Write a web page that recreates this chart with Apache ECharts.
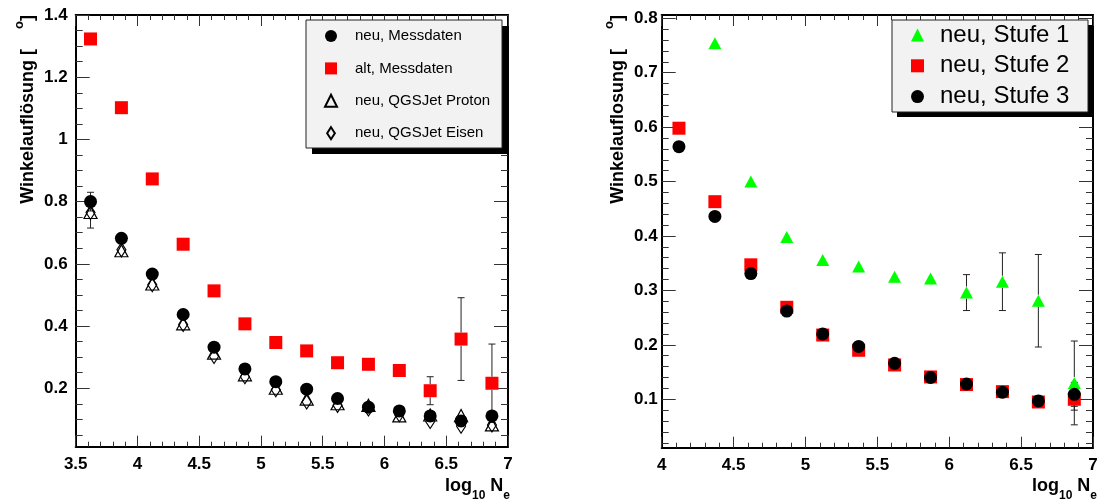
<!DOCTYPE html>
<html><head><meta charset="utf-8">
<script src="https://cdn.jsdelivr.net/npm/echarts@6/dist/echarts.min.js"></script>
<style>html,body{margin:0;padding:0;background:#fff}#c{width:1101px;height:500px}</style>
</head><body><div id="c"></div>
<script>
// ---------- left panel data ----------
const xLeft = [3.62, 3.87, 4.12, 4.37, 4.62, 4.87, 5.12, 5.37, 5.62, 5.87, 6.12, 6.37, 6.62, 6.87];
const neuMess    = [0.800, 0.682, 0.567, 0.437, 0.332, 0.262, 0.221, 0.197, 0.167, 0.139, 0.127, 0.111, 0.095, 0.111];
const neuMessErr = [0.030, 0.010, 0.010, 0.010, 0.008, 0.008, 0.008, 0.008, 0.008, 0.010, 0.010, 0.012, 0.015, 0.020];
const altMess    = [1.323, 1.102, 0.873, 0.663, 0.513, 0.407, 0.347, 0.320, 0.282, 0.277, 0.257, 0.192, 0.358, 0.216];
const altMessErr = [0.010, 0.010, 0.010, 0.010, 0.010, 0.010, 0.010, 0.010, 0.010, 0.015, 0.020, 0.045, 0.133, 0.126];
const proton     = [0.765, 0.642, 0.535, 0.407, 0.313, 0.243, 0.200, 0.165, 0.150, 0.145, 0.111, 0.114, 0.112, 0.082];
const eisen      = [0.765, 0.645, 0.533, 0.405, 0.302, 0.237, 0.195, 0.156, 0.145, 0.133, 0.115, 0.093, 0.078, 0.082];
const eisenErr   = [0.050, 0, 0, 0, 0, 0, 0, 0, 0, 0, 0, 0, 0, 0];
const yTicksLeft = [0.2, 0.4, 0.6, 0.8, 1, 1.2, 1.4];

// ---------- right panel data ----------
const xRight = [4.12, 4.37, 4.62, 4.87, 5.12, 5.37, 5.62, 5.87, 6.12, 6.37, 6.62, 6.87];
const stufe1    = [null, 0.754, 0.500, 0.398, 0.356, 0.344, 0.325, 0.322, 0.296, 0.316, 0.281, 0.130];
const stufe1Err = [null, 0.010, 0.010, 0.010, 0.010, 0.010, 0.010, 0.010, 0.033, 0.053, 0.085, 0.077];
const stufe2    = [0.598, 0.463, 0.347, 0.269, 0.218, 0.190, 0.163, 0.141, 0.127, 0.114, 0.095, 0.100];
const stufe2Err = [0.005, 0.005, 0.005, 0.005, 0.005, 0.005, 0.005, 0.005, 0.005, 0.006, 0.008, 0.020];
const stufe3    = [0.564, 0.436, 0.331, 0.262, 0.220, 0.197, 0.166, 0.140, 0.128, 0.113, 0.097, 0.109];
const stufe3Err = [0.005, 0.005, 0.005, 0.005, 0.005, 0.005, 0.005, 0.005, 0.005, 0.006, 0.008, 0.022];
const yTicksRight = [0.1, 0.2, 0.3, 0.4, 0.5, 0.6, 0.7, 0.8];

const FONT = '"Liberation Sans", Arial, Helvetica, sans-serif';

function pts(xs, ys) { const o = []; xs.forEach((x, i) => { if (ys[i] != null) o.push([x, ys[i]]); }); return o; }
function errPts(xs, ys, es) { const o = []; xs.forEach((x, i) => { if (ys[i] != null && es[i]) o.push([x, ys[i], es[i]]); }); return o; }

function minorTicks(step, lo, hi, majorStep) {
  const out = [];
  for (let k = Math.ceil(lo / step); k * step <= hi + 1e-9; k++) {
    const v = +(k * step).toFixed(4);
    const r = v / majorStep;
    if (Math.abs(r - Math.round(r)) > 1e-6) out.push(v);
  }
  return out;
}

function errRender(rPix) {
  return function (params, api) {
    const x = api.value(0), y = api.value(1), e = api.value(2);
    const c = api.coord([x, y]);
    const hi = api.coord([x, y + e]);
    const lo = api.coord([x, y - e]);
    const st = { stroke: '#222', lineWidth: 1 };
    const cap = 3.5;
    const ch = [];
    if (hi[1] < c[1] - rPix) {
      ch.push({ type: 'line', shape: { x1: c[0], y1: hi[1], x2: c[0], y2: c[1] - rPix }, style: st });
      ch.push({ type: 'line', shape: { x1: c[0] - cap, y1: hi[1], x2: c[0] + cap, y2: hi[1] }, style: st });
    }
    if (lo[1] > c[1] + rPix) {
      ch.push({ type: 'line', shape: { x1: c[0], y1: c[1] + rPix, x2: c[0], y2: lo[1] }, style: st });
      ch.push({ type: 'line', shape: { x1: c[0] - cap, y1: lo[1], x2: c[0] + cap, y2: lo[1] }, style: st });
    }
    return { type: 'group', children: ch };
  };
}

const axisLineStyle = { color: '#000', width: 2 };
const tickStyle = { color: '#333', width: 1 };
const labelStyle = { color: '#000', fontFamily: FONT, fontWeight: 'bold', fontSize: 17 };

function xAxes(grid, min, max) {
  const base = {
    type: 'value', gridIndex: grid, min: min, max: max, interval: 0.5,
    axisLine: { show: true, onZero: false, lineStyle: axisLineStyle },
    splitLine: { show: false }, minorSplitLine: { show: false }
  };
  return [
    Object.assign({}, base, {
      position: 'bottom',
      axisTick: { show: true, inside: true, length: 11, lineStyle: tickStyle },
      minorTick: { show: true, splitNumber: 5, length: 5, lineStyle: tickStyle },
      axisLabel: Object.assign({ margin: 9 }, labelStyle)
    }),
    Object.assign({}, base, {
      position: 'top',
      axisTick: { show: true, inside: true, length: 11, lineStyle: tickStyle },
      minorTick: { show: true, splitNumber: 5, length: 5, lineStyle: tickStyle },
      axisLabel: { show: false }
    })
  ];
}

function yAxes(grid, min, max, major, minor, labelMargin) {
  const base = { type: 'value', gridIndex: grid, min: min, max: max, splitLine: { show: false } };
  return [
    Object.assign({}, base, {
      position: 'left',
      axisLine: { show: true, onZero: false, lineStyle: axisLineStyle },
      axisTick: { show: true, inside: true, length: 14, customValues: major, lineStyle: tickStyle },
      axisLabel: Object.assign({ margin: labelMargin, customValues: major }, labelStyle)
    }),
    Object.assign({}, base, {
      position: 'left', axisLine: { show: false },
      axisTick: { show: true, inside: true, length: 7, customValues: minor, lineStyle: tickStyle },
      axisLabel: { show: false }
    }),
    Object.assign({}, base, {
      position: 'right',
      axisLine: { show: true, onZero: false, lineStyle: axisLineStyle },
      axisTick: { show: true, inside: true, length: 14, customValues: major, lineStyle: tickStyle },
      axisLabel: { show: false }
    }),
    Object.assign({}, base, {
      position: 'right', axisLine: { show: false },
      axisTick: { show: true, inside: true, length: 7, customValues: minor, lineStyle: tickStyle },
      axisLabel: { show: false }
    })
  ];
}

const Y_L_MIN = 0.012, Y_L_MAX = 1.4;
const Y_R_MIN = 0.011, Y_R_MAX = 0.806;

const openStyle = { color: 'rgba(255,255,255,0)', borderColor: '#000', borderWidth: 1.2, opacity: 1 };

function scatter(name, xi, yi, data, symbol, size, itemStyle) {
  return { type: 'scatter', name: name, xAxisIndex: xi, yAxisIndex: yi, data: data, symbol: symbol,
    symbolSize: size, itemStyle: Object.assign({ opacity: 1 }, itemStyle), silent: true, emphasis: { disabled: true }, z: 3 };
}
function errSeries(xi, yi, data, r) {
  return { type: 'custom', xAxisIndex: xi, yAxisIndex: yi, data: data, renderItem: errRender(r), silent: true, z: 2 };
}

const subTitle = {
  a: { fontFamily: FONT, fontWeight: 'bold', fontSize: 18, lineHeight: 18, verticalAlign: 'top', fill: '#000' },
  b: { fontFamily: FONT, fontWeight: 'bold', fontSize: 12, lineHeight: 25, verticalAlign: 'bottom', fill: '#000' }
};
const supTitle = {
  a: { fontFamily: FONT, fontWeight: 'bold', fontSize: 18, lineHeight: 24, verticalAlign: 'bottom', fill: '#000' },
  s: { fontFamily: FONT, fontWeight: 'bold', fontSize: 13, lineHeight: 13, verticalAlign: 'top', fill: '#000' }
};

function legendBox(x, y, w, h, off) {
  return [
    { type: 'rect', z: 1, silent: true, shape: { x: x + off, y: y + off, width: w, height: h }, style: { fill: '#000' } },
    { type: 'rect', z: 2, silent: true, shape: { x: x, y: y, width: w, height: h }, style: { fill: '#f2f2f2', stroke: '#222', lineWidth: 1 } }
  ];
}

const option = {
  backgroundColor: '#fff',
  animation: false,
  grid: [
    { left: 75.7, right: 593, top: 15, bottom: 53.3, containLabel: false },
    { left: 661.7, right: 8, top: 15, bottom: 52.3, containLabel: false }
  ],
  xAxis: [].concat(xAxes(0, 3.5, 7), xAxes(1, 4, 7)),
  yAxis: [].concat(
    yAxes(0, Y_L_MIN, Y_L_MAX, yTicksLeft, minorTicks(0.05, Y_L_MIN, Y_L_MAX, 0.2), 8),
    yAxes(1, Y_R_MIN, Y_R_MAX, yTicksRight, minorTicks(0.02, Y_R_MIN, Y_R_MAX, 0.1), 4)
  ),
  legend: [
    {
      orient: 'vertical', left: 306, top: 20, selectedMode: false, z: 10,
      data: [
        { name: 'neu, Messdaten' },
        { name: 'alt, Messdaten' },
        { name: 'neu, QGSJet Proton' },
        { name: 'neu, QGSJet Eisen', icon: 'path://M4.5,0L9,7L4.5,14L0,7Z' }
      ],
      itemWidth: 12, itemHeight: 12, itemGap: 16.4,
      padding: [8, 0, 0, 18],
      backgroundColor: 'transparent', borderWidth: 0,
      textStyle: { fontFamily: FONT, fontSize: 15, color: '#000', lineHeight: 16, padding: [0, 0, 0, 13] }
    },
    {
      orient: 'vertical', left: 892, top: 20, selectedMode: false, z: 10,
      data: ['neu, Stufe 1', 'neu, Stufe 2', 'neu, Stufe 3'],
      itemWidth: 13, itemHeight: 13, itemGap: 6.8,
      padding: [3, 0, 0, 19],
      backgroundColor: 'transparent', borderWidth: 0,
      textStyle: { fontFamily: FONT, fontSize: 24, color: '#000', lineHeight: 24, padding: [0, 0, 0, 11] }
    }
  ],
  graphic: [].concat(
    legendBox(306, 20, 196, 128, 6),
    legendBox(892, 20, 196, 92, 5),
    [
      { type: 'text', x: 25, y: 15, rotation: Math.PI / 2, silent: true,
        style: { text: '{a|Winkelauflösung [    }{s|o}{a|]}', rich: supTitle, align: 'right', verticalAlign: 'middle' } },
      { type: 'text', x: 615, y: 15, rotation: Math.PI / 2, silent: true,
        style: { text: '{a|Winkelauflosung [    }{s|o}{a|]}', rich: supTitle, align: 'right', verticalAlign: 'middle' } },
      { type: 'text', x: 510, y: 477, silent: true,
        style: { text: '{a|log}{b|10}{a| N}{b|e}', rich: subTitle, align: 'right', verticalAlign: 'top' } },
      { type: 'text', x: 1097, y: 477, silent: true,
        style: { text: '{a|log}{b|10}{a| N}{b|e}', rich: subTitle, align: 'right', verticalAlign: 'top' } }
    ]
  ),
  series: [
    // left panel (xAxis 0, yAxis 0)
    errSeries(0, 0, errPts(xLeft, eisen, eisenErr), 7),
    errSeries(0, 0, errPts(xLeft, altMess, altMessErr), 6.5),
    errSeries(0, 0, errPts(xLeft, neuMess, neuMessErr), 6.5),
    scatter('neu, QGSJet Proton', 0, 0, pts(xLeft, proton), 'triangle', [13, 12], openStyle),
    scatter('neu, QGSJet Eisen', 0, 0, pts(xLeft, eisen), 'diamond', [9, 14], openStyle),
    scatter('alt, Messdaten', 0, 0, pts(xLeft, altMess), 'rect', 13, { color: '#ff0000' }),
    scatter('neu, Messdaten', 0, 0, pts(xLeft, neuMess), 'circle', 13, { color: '#000' }),
    // right panel (xAxis 2, yAxis 4)
    errSeries(2, 4, errPts(xRight, stufe1, stufe1Err), 6),
    errSeries(2, 4, errPts(xRight, stufe2, stufe2Err), 6.5),
    errSeries(2, 4, errPts(xRight, stufe3, stufe3Err), 6.5),
    scatter('neu, Stufe 1', 2, 4, pts(xRight, stufe1), 'triangle', [13, 12], { color: '#00ff00' }),
    scatter('neu, Stufe 2', 2, 4, pts(xRight, stufe2), 'rect', 13, { color: '#ff0000' }),
    scatter('neu, Stufe 3', 2, 4, pts(xRight, stufe3), 'circle', 13, { color: '#000' })
  ]
};

const chart = echarts.init(document.getElementById('c'), null, { renderer: 'canvas' });
chart.setOption(option);
</script>
</body></html>
